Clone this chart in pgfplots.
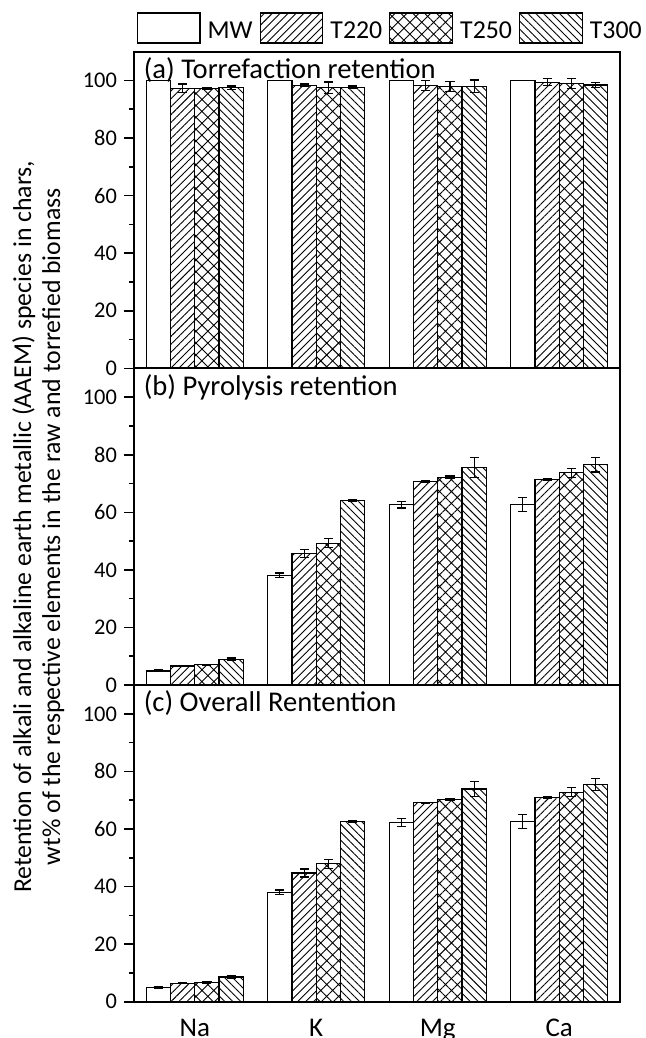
\documentclass[border=0pt]{standalone}
\usepackage{fontspec}
\setmainfont{Carlito}
\usepackage{pgfplots}
\usepackage{pgfplotstable}
\pgfplotsset{compat=1.18}
\usetikzlibrary{patterns.meta}

% Retention (wt%) and standard deviation per element: Na, K, Mg, Ca
\pgfplotstableread{
x MW   MWe T220 T220e T250 T250e T300 T300e
0 100  0   97.3 1.5   97.1 0.3   97.5 0.6
1 100  0   98.3 0.5   97.5 2.0   97.6 0.5
2 100  0   98.3 1.7   97.9 1.8   98.0 2.2
3 100  0   99.4 1.2   99.0 1.8   98.4 0.8
}\torrefaction
\pgfplotstableread{
x MW   MWe T220 T220e T250 T250e T300 T300e
0 4.9  0.3 6.6  0.2   7.0  0.2   9.0  0.4
1 38.1 0.8 45.7 1.4   49.3 1.5   64.1 0.4
2 62.6 1.1 70.6 0.3   72.2 0.4   75.6 3.5
3 62.7 2.4 71.4 0.4   73.7 1.6   76.5 2.5
}\pyrolysis
\pgfplotstableread{
x MW   MWe T220 T220e T250 T250e T300 T300e
0 4.9  0.3 6.4  0.2   6.6  0.3   8.6  0.4
1 38.0 0.8 44.7 1.4   47.9 1.6   62.5 0.3
2 62.3 1.3 69.1 0.2   70.3 0.4   73.9 2.6
3 62.5 2.4 70.8 0.3   72.8 1.6   75.4 2.1
}\overall

\tikzset{paneltitle/.style={anchor=base west, inner sep=0pt, font=\fontsize{14.3}{16}\selectfont}}

\pgfplotsset{
  boxlegend/.style={legend image code/.code={%
      \draw[##1, line width=0.6pt] (0pt,-5.6pt) rectangle (31.35pt,9.4pt);}},
  barbase/.style={draw=black, line width=0.6pt, boxlegend},
  mw/.style={barbase, fill=white, bar shift=-0.3},
  t220/.style={barbase, pattern={Lines[angle=45,distance=2.8pt,line width=0.45pt]}, bar shift=-0.1},
  t250/.style={barbase, pattern={Hatch[angle=45,distance=4.2pt,line width=0.45pt]}, bar shift=0.1},
  t300/.style={barbase, pattern={Lines[angle=-45,distance=2.8pt,line width=0.45pt]}, bar shift=0.3},
  errs/.style={error bars/.cd, y dir=both, y explicit,
      error bar style={line width=0.6pt, black, solid},
      error mark options={rotate=90, mark size=2.3pt, line width=0.6pt, black}},
  panel/.style={
    scale only axis, width=243pt, height=158.33pt,
    xmin=-0.5, xmax=3.5, ymin=0, ymax=110,
    ybar, bar width=0.2,
    ytick={0,20,...,100}, minor ytick={10,30,...,90},
    ytick pos=left, tick align=outside,
    major tick length=5pt, minor tick length=2.5pt,
    axis line style={line width=1pt},
    tick style={line width=0.8pt, black},
    xtick=\empty,
    /pgf/number format/assume math mode=true,
    yticklabel style={font=\fontsize{11.2}{13}\selectfont},
  },
}

\begin{document}
\begin{tikzpicture}
% (a) torrefaction
\begin{axis}[panel, name=a, at={(0,0)}, anchor=north west,
  legend columns=4,
  legend style={at={(axis description cs:0.0047,1.0243)}, anchor=south west,
    draw=none, fill=none, inner sep=0pt,
    font=\fontsize{12.9}{14}\selectfont, nodes={inner sep=0pt},
    /tikz/every odd column/.append style={column sep=3.5pt},
    /tikz/every even column/.append style={column sep=3.5pt}},
]
\addplot[mw] table[x=x, y=MW] {\torrefaction};
\addplot[t220, errs] table[x=x, y=T220, y error=T220e] {\torrefaction};
\addplot[t250, errs] table[x=x, y=T250, y error=T250e] {\torrefaction};
\addplot[t300, errs] table[x=x, y=T300, y error=T300e] {\torrefaction};
\legend{MW,T220,T250,T300}
\node[paneltitle] at (axis description cs:0.0193,0.915) {(a) Torrefaction retention};
\end{axis}

% (b) pyrolysis
\begin{axis}[panel, name=b, at={(0,-158.33pt)}, anchor=north west,
  ylabel={Retention of alkali and alkaline earth metallic (AAEM) species in chars,\\wt\% of the respective elements in the raw and torrefied biomass},
  ylabel style={at={(axis description cs:-0.197,0.5)}, anchor=center, align=center,
    font=\fontsize{12.9}{14.5}\selectfont},
]
\addplot[mw, errs] table[x=x, y=MW, y error=MWe] {\pyrolysis};
\addplot[t220, errs] table[x=x, y=T220, y error=T220e] {\pyrolysis};
\addplot[t250, errs] table[x=x, y=T250, y error=T250e] {\pyrolysis};
\addplot[t300, errs] table[x=x, y=T300, y error=T300e] {\pyrolysis};
\node[paneltitle] at (axis description cs:0.0193,0.915) {(b) Pyrolysis retention};
\end{axis}

% (c) overall
\begin{axis}[panel, name=c, at={(0,-316.67pt)}, anchor=north west,
  xtick={0,1,2,3}, xticklabels={Na,K,Mg,Ca}, xtick pos=bottom,
  major x tick style={draw=none},
  xticklabel style={font=\fontsize{13.5}{15}\selectfont},
  extra x ticks={-0.5,0.5,1.5,2.5,3.5}, extra x tick labels={},
  extra x tick style={major tick length=5.5pt, tick style={line width=0.8pt, black, draw=black}},
]
\addplot[mw, errs] table[x=x, y=MW, y error=MWe] {\overall};
\addplot[t220, errs] table[x=x, y=T220, y error=T220e] {\overall};
\addplot[t250, errs] table[x=x, y=T250, y error=T250e] {\overall};
\addplot[t300, errs] table[x=x, y=T300, y error=T300e] {\overall};
\node[paneltitle] at (axis description cs:0.0193,0.915) {(c) Overall Rentention};
\end{axis}

\pgfresetboundingbox
\useasboundingbox (-67pt,-493.15pt) rectangle (255.5pt,25.85pt);
\end{tikzpicture}
\end{document}
